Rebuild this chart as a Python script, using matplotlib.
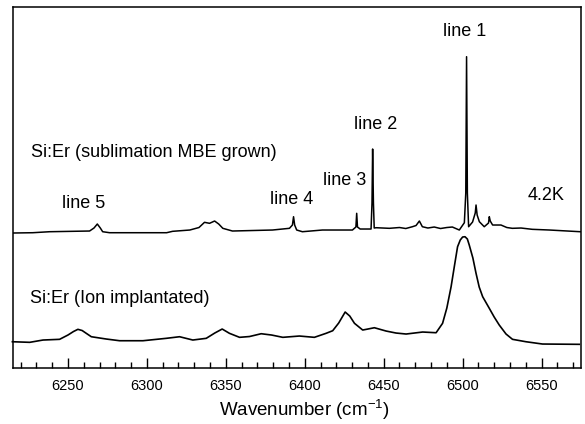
import numpy as np
import matplotlib
matplotlib.use('Agg')
import matplotlib.pyplot as plt
from matplotlib.ticker import MultipleLocator

plt.rcParams['font.family'] = ['Liberation Sans', 'DejaVu Sans']
plt.rcParams['mathtext.fontset'] = 'custom'
plt.rcParams['mathtext.rm'] = 'Liberation Sans'
plt.rcParams['mathtext.it'] = 'Liberation Sans:italic'

# --- data (intensity in arbitrary units) ---
# Si:Er sublimation MBE grown, 4.2K
mbe_wn = [6214.8, 6227.7, 6238.4, 6263.7, 6266.5, 6268.6, 6270.5, 6272.0, 6276.4,
          6312.5, 6316.3, 6327.2, 6333.0, 6336.5, 6339.7, 6342.9, 6345.5, 6348.1,
          6354.2, 6379.6, 6390.3, 6392.2, 6392.9, 6393.6, 6394.9, 6398.5, 6411.2,
          6430.2, 6432.4, 6432.9, 6433.4, 6435.1, 6442.0, 6442.6, 6443.0, 6443.5,
          6444.0, 6445.2, 6453.6, 6460.0, 6464.0, 6468.2, 6470.5, 6472.6, 6474.5,
          6478.0, 6482.0, 6486.0, 6490.0, 6493.5, 6497.9, 6501.1, 6502.0, 6502.5,
          6503.0, 6503.8, 6506.3, 6508.0, 6508.5, 6509.2, 6510.6, 6513.7, 6516.4,
          6516.9, 6517.5, 6519.0, 6524.3, 6528.0, 6531.5, 6537.0, 6544.1, 6555.0,
          6574.5]
mbe_int = [0.0, 0.3, 1.3, 2.0, 5.0, 9.0, 5.0, 1.3, 0.3,
           0.3, 1.7, 3.0, 5.5, 10.7, 9.7, 12.0, 9.0, 4.7,
           2.0, 3.0, 4.7, 8.0, 16.3, 8.0, 3.0, 1.3, 3.0,
           3.0, 6.0, 19.7, 6.0, 4.0, 4.0, 30.0, 84.0, 30.0,
           5.0, 5.3, 4.7, 5.5, 4.5, 6.3, 7.5, 12.0, 6.3,
           5.0, 6.0, 4.5, 5.5, 6.0, 3.0, 10.3, 40.0, 176.3,
           40.0, 6.3, 11.0, 20.0, 28.0, 18.0, 11.3, 6.3, 10.0,
           16.3, 12.0, 8.0, 8.0, 5.5, 4.7, 5.0, 3.7, 3.0,
           1.3]

# Si:Er ion implanted
ion_wn = [6214.8, 6225.8, 6234.2, 6244.7, 6250.0, 6253.5, 6256.3, 6259.0, 6261.6,
          6264.8, 6274.3, 6282.7, 6297.5, 6312.3, 6320.7, 6329.1, 6337.6, 6343.0,
          6347.7, 6352.3, 6358.7, 6365.0, 6372.4, 6379.0, 6386.1, 6396.6, 6406.1,
          6413.5, 6417.7, 6421.5, 6425.6, 6428.5, 6431.5, 6436.7, 6440.0, 6444.1,
          6451.5, 6457.8, 6464.2, 6474.7, 6483.2, 6487.3, 6490.0, 6492.7, 6494.8,
          6496.8, 6498.5, 6500.0, 6501.5, 6503.0, 6504.2, 6506.5, 6508.5, 6510.5,
          6512.7, 6516.9, 6520.0, 6523.2, 6527.5, 6531.6, 6540.1, 6550.6, 6573.9]
ion_int = [2.3, 1.7, 4.0, 4.7, 9.0, 12.5, 14.7, 13.5, 10.7,
           7.3, 5.0, 3.3, 3.3, 5.7, 7.3, 4.0, 5.7, 11.0,
           15.0, 10.7, 6.7, 7.5, 10.3, 9.0, 6.7, 8.0, 6.7,
           10.7, 13.3, 21.0, 32.0, 28.0, 20.7, 14.0, 15.0, 16.3,
           13.0, 11.0, 10.0, 12.0, 11.3, 20.7, 36.0, 57.3, 78.0,
           97.3, 104.0, 107.0, 107.3, 105.0, 99.0, 86.0, 70.7, 57.0,
           47.3, 35.7, 27.0, 19.0, 10.0, 4.7, 2.3, 0.0, -0.3]

mbe_offset = 135
ion_offset = 24

fig = plt.figure(figsize=(5.85, 4.24), dpi=100)
ax = fig.add_axes([0.0217, 0.132, 0.9715, 0.8515])

ax.plot(mbe_wn, np.array(mbe_int) + mbe_offset, color='black', lw=1.1)
ax.plot(ion_wn, np.array(ion_int) + ion_offset, color='black', lw=1.2, clip_on=False)

ax.set_xlim(6215, 6575)
ax.set_ylim(0, 361)
ax.set_yticks([])
ax.xaxis.set_major_locator(MultipleLocator(50))
ax.xaxis.set_minor_locator(MultipleLocator(10))
ax.tick_params(axis='x', which='major', direction='in', length=7, width=1, labelsize=10.5, pad=8)
ax.tick_params(axis='x', which='minor', direction='in', length=4, width=1)
for s in ax.spines.values():
    s.set_linewidth(1.1)

ax.set_xlabel('Wavenumber (cm$^{-1}$)', fontsize=13.5)
ax.xaxis.set_label_coords(0.514, -0.083)

fs = 13
ax.text(6501.1, 336, 'line 1', ha='center', va='center', fontsize=fs)
ax.text(6444.7, 244, 'line 2', ha='center', va='center', fontsize=fs)
ax.text(6425.1, 188, 'line 3', ha='center', va='center', fontsize=fs)
ax.text(6391.6, 169, 'line 4', ha='center', va='center', fontsize=fs)
ax.text(6259.9, 165, 'line 5', ha='center', va='center', fontsize=fs)
ax.text(6553, 173, '4.2K', ha='center', va='center', fontsize=fs)
ax.text(6226.4, 216, 'Si:Er (sublimation MBE grown)', ha='left', va='center', fontsize=fs)
ax.text(6225.8, 70, 'Si:Er (Ion implantated)', ha='left', va='center', fontsize=fs)

fig.savefig('out.png', dpi=100)
